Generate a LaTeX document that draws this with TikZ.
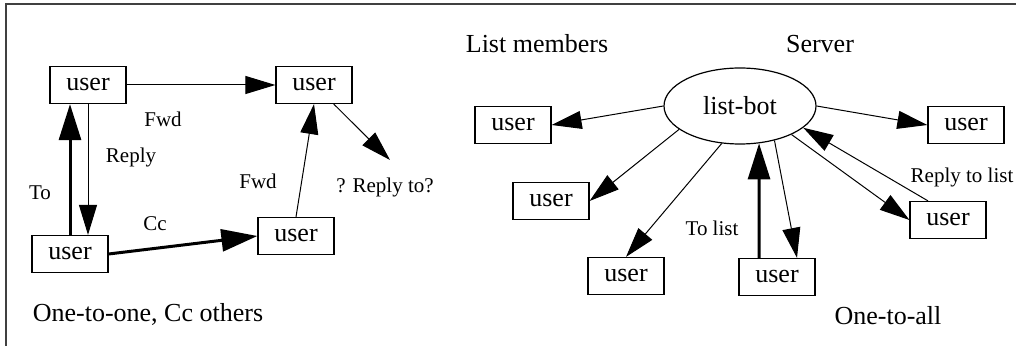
\documentclass[tikz,border=0pt]{standalone}
\usepackage{fontspec}
\setmainfont{Liberation Serif}
\usetikzlibrary{arrows.meta,shapes.geometric,calc}
\begin{document}
\begin{tikzpicture}[x=0.5pt,y=-0.5pt,
  userbox/.style={draw, line width=0.6pt, minimum width=38pt, minimum height=18.5pt,
    inner sep=0pt, font=\fontsize{13}{15}\selectfont},
  botnode/.style={draw, ellipse, line width=0.6pt, minimum width=76pt, minimum height=38pt,
    inner sep=0pt, font=\fontsize{13}{15}\selectfont},
  lbl/.style={inner sep=0pt, font=\fontsize{10.5}{12}\selectfont},
  heading/.style={inner sep=0pt, font=\fontsize{13}{15}\selectfont},
  thinedge/.style={line width=0.5pt, -{Triangle[length=15pt,width=9pt]}},
  thickedge/.style={line width=1.5pt, -{Triangle[length=18pt,width=11pt]}},
]
\useasboundingbox (0,0) rectangle (1016,346);

% frame along the top and left
\draw[line width=1pt, black!75] (5.5,346) -- (5.5,4.5) -- (1016,4.5);

% ---------- one-to-one, Cc others ----------
\node[userbox] (u1) at (88,85)  {user};
\node[userbox] (u2) at (314,85) {user};
\node[userbox] (u3) at (70,254) {user};
\node[userbox] (u4) at (296,236) {user};
\coordinate (rq) at (390,160);

\draw[thinedge]  (u1.east) -- (u2.west);
\draw[thinedge]  (u1.south) -- (u1.south |- u3.north);
\draw[thickedge] (u3.north) -- (u3.north |- u1.south);
\draw[thickedge] (u3.east) -- (u4.west);
\draw[thinedge]  (u4.north) -- (u2.south);
\draw[thinedge]  (u2.-44) -- (rq);

\node[lbl] (lfwd1) at (163,119) {Fwd};
\node[lbl] (lrep)  at (131,157) {Reply};
\node[lbl] (lto)   at (40,193)  {To};
\node[lbl] (lcc)   at (155,224) {Cc};
\node[lbl] (lfwd2) at (258,181) {Fwd};
\node[lbl] (lrq)   at (385,187) {? Reply to?};
\node[heading] (t1) at (148,314) {One-to-one, Cc others};

% ---------- one-to-all ----------
\node[botnode] (bot) at (740,106) {list-bot};
\node[userbox] (ul1) at (513,125) {user};
\node[userbox] (ul2) at (551,201) {user};
\node[userbox] (ul3) at (626,276) {user};
\node[userbox] (ub)  at (777,277) {user};
\node[userbox] (ur1) at (966,125) {user};
\node[userbox] (ur2) at (948,220) {user};

\draw[thinedge]  (bot.west) -- (ul1.east);
\draw[thinedge]  (bot.201) -- (ul2.east);
\draw[thinedge]  (bot.244) -- (ul3.north);
\draw[thickedge] ($(ub.north)+(-18,0)$) -- (bot.297);
\draw[thinedge]  (bot.315) -- ($(ub.north)+(20,0)$);
\draw[thinedge]  (bot.east) -- (ur1.west);
\draw[thinedge]  (bot.331) -- (ur2.west);
\draw[thinedge]  ($(ur2.north)+(-20,0)$) -- (bot.341);

\node[lbl] (ltl) at (712,228) {To list};
\node[lbl] (lrl) at (962,177) {Reply to list};
\node[heading] (t2) at (537,44) {List members};
\node[heading] (t3) at (820,44) {Server};
\node[heading] (t4) at (888,316) {One-to-all};
\end{tikzpicture}
\end{document}
